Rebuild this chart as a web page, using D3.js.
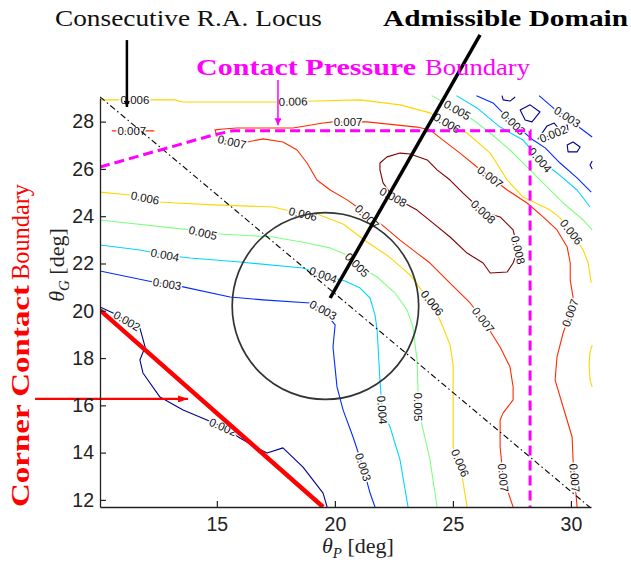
<!DOCTYPE html>
<html>
<head>
<meta charset="utf-8">
<script src="https://cdn.jsdelivr.net/npm/d3@7/dist/d3.min.js"></script>
<style>
  html, body { margin: 0; padding: 0; background: #fff; }
  svg { display: block; }
</style>
</head>
<body>
<svg id="chart" width="631" height="564"></svg>
<script>
// ---------- axes ----------
const xDomain = [10.05, 30.85];
const yDomain = [11.7, 29.0];
const xTicks = [15, 20, 25, 30];
const yTicks = [12, 14, 16, 18, 20, 22, 24, 26, 28];

// ---------- contour levels (jet colour map) ----------
const levels = [0.002, 0.003, 0.004, 0.005, 0.006, 0.007, 0.008];
const levelColors = ["#00008f", "#002bff", "#00d5ff", "#80ff80", "#ffd500", "#ff2b00", "#800000"];

// ---------- iso-lines, points as [thetaP, thetaG] ----------
const c002Main = [[10.05,20.16],[10.60,19.91],[11.19,19.57],[11.74,19.27],[11.96,18.47],[11.74,17.92],[11.87,17.37],[12.59,16.35],[13.57,15.80],[14.58,15.38],[15.26,15.08],[15.98,14.62],[16.70,14.20],[17.13,13.98],[17.80,14.20],[18.65,13.39],[19.50,12.29],[19.67,11.70]];
const c002MainLabels = [[11.19,19.57],[15.26,15.08]];

const c003Main = [[10.05,21.68],[12.30,21.22],[12.89,21.13],[13.57,21.01],[15.56,20.58],[16.96,20.46],[18.95,20.33],[19.50,20.03],[20.01,19.40],[19.92,18.47],[20.09,16.78],[20.35,15.80],[20.77,14.66],[21.19,13.39],[21.49,12.29],[21.70,11.70]];
const c003MainLabels = [[12.89,21.13],[19.50,20.03],[21.19,13.39]];

const c004Main = [[10.05,22.78],[11.74,22.57],[12.80,22.36],[13.86,22.23],[15.98,22.06],[18.65,21.81],[19.50,21.51],[20.43,21.26],[21.07,20.96],[21.49,20.54],[21.70,19.82],[21.79,19.19],[21.91,17.07],[22.00,15.80],[22.34,15.08],[22.76,13.69],[23.10,11.70]];
const c004MainLabels = [[12.80,22.36],[19.50,21.51],[22.00,15.80]];

const c005Main = [[10.05,23.84],[13.86,23.42],[14.41,23.29],[15.13,23.25],[17.38,23.12],[18.82,22.87],[19.80,22.66],[20.52,22.36],[20.94,21.94],[21.79,21.43],[22.55,20.75],[23.06,20.03],[23.31,19.31],[23.48,17.92],[23.52,16.78],[23.52,15.93],[23.69,15.17],[24.03,13.69],[24.33,11.70]];
const c005MainLabels = [[14.41,23.29],[20.94,21.94],[23.52,15.93]];

const c006Mid = [[10.05,25.02],[11.32,24.90],[11.96,24.77],[12.59,24.60],[13.31,24.56],[14.84,24.48],[17.38,24.39],[18.65,24.09],[19.24,24.09],[20.35,23.67],[21.36,22.91],[22.25,22.32],[23.19,21.51],[23.61,20.96],[24.12,20.33],[24.58,19.31],[24.88,18.55],[25.01,17.71],[25.01,14.24],[25.30,13.56],[25.60,11.70]];
const c006MidLabels = [[11.96,24.77],[18.65,24.09],[24.12,20.33],[25.30,13.56]];

const c006Top = [[10.05,28.92],[13.23,28.92],[13.52,28.83],[17.47,28.83],[19.16,28.87],[21.07,28.92],[22.76,28.71],[24.03,28.37],[24.75,27.94],[25.60,27.52],[26.58,26.67],[27.30,25.53],[27.97,24.81],[29.12,24.26],[29.54,23.93],[30.01,23.33],[30.52,22.57],[30.73,22.02],[30.86,21.18]];
const c006TopLabels = [[11.53,28.92],[18.23,28.85],[24.75,27.94],[30.01,23.33]];

const c006Edge = [[30.90,18.55],[30.81,18.26],[30.77,17.71],[30.81,17.07],[30.90,16.78]];

const c007Main = [[30.26,11.70],[30.09,13.69],[30.05,14.66],[29.67,15.93],[29.33,17.07],[29.41,18.05],[29.67,19.06],[29.97,19.91],[30.09,20.58],[29.97,21.30],[29.97,22.02],[29.84,22.70],[29.41,23.42],[28.82,23.97],[28.14,24.56],[27.30,25.11],[26.58,25.66],[26.02,26.08],[25.30,26.67],[24.58,27.22],[24.03,27.65],[23.48,27.77],[21.36,27.99],[19.92,27.99],[19.50,27.94],[18.23,27.73],[15.86,27.73],[15.26,27.69],[14.92,27.65],[15.05,27.27],[15.64,27.14],[16.28,27.14],[16.96,27.27],[17.80,27.14],[18.40,26.80],[18.82,26.25],[19.24,25.53],[19.80,25.11],[20.52,24.69],[20.94,24.39],[21.36,23.97],[21.91,23.71],[22.76,22.99],[23.48,22.44],[24.03,22.02],[24.75,21.30],[25.73,20.33],[26.28,19.61],[27.00,18.47],[27.42,17.62],[27.55,16.78],[27.55,16.23],[27.13,15.68],[27.00,15.38],[27.00,14.24],[27.13,12.93],[27.55,11.70]];
const c007MainLabels = [[30.16,12.93],[29.97,19.91],[26.58,25.66],[20.56,28.0],[15.64,27.14],[21.36,23.97],[26.28,19.61],[27.13,12.93]];

const c007Short = [[10.55,27.61],[12.35,27.61]];
const c007ShortLabels = [[11.4,27.61]];

const c008Loop = [[21.91,26.25],[22.21,26.51],[22.76,26.67],[23.19,26.63],[23.91,26.38],[24.33,25.96],[24.88,25.53],[25.43,24.98],[26.28,24.18],[27.00,23.97],[27.55,23.42],[27.76,22.57],[27.55,22.02],[27.30,21.64],[26.58,21.60],[26.28,22.02],[25.60,22.44],[24.88,23.12],[24.16,23.71],[23.48,24.26],[22.47,24.81],[22.04,25.41],[21.91,25.96]];
const c008LoopLabels = [[26.28,24.18],[27.76,22.57],[22.47,24.81]];

// upper right corner
const c003TopA = [[28.65,29.1],[29.25,28.58],[29.84,28.20],[30.39,27.73],[30.90,27.35]];
const c003TopALabels = [[29.84,28.20]];
const c003TopB = [[26.0,29.1],[26.70,28.79],[27.55,27.94],[28.40,27.22],[28.91,26.89],[29.54,26.25],[30.26,25.62],[30.86,25.02]];
const c003TopBLabels = [[27.55,27.94]];
const c004Top = [[25.15,29.1],[26.02,28.58],[27.00,27.77],[27.97,27.22],[28.69,26.38],[29.41,25.83],[30.26,25.11],[30.81,24.39]];
const c004TopLabels = [[28.69,26.38]];
const c005Top = [[24.1,29.1],[24.58,28.83],[25.18,28.49],[25.86,28.07],[26.58,27.52],[27.42,26.80],[28.27,25.96],[28.82,25.41],[29.67,24.56],[30.52,23.84],[30.90,23.42]];
const c005TopLabels = [[25.18,28.49]];
const c002Hook = [[27.08,29.1],[27.13,28.92],[27.42,28.87],[27.64,29.04]];
const c002Diamond = [[27.85,28.49],[28.27,28.71],[28.69,28.41],[28.35,27.99],[28.06,28.07]];
const c002Bump = [[28.61,27.27],[28.99,27.82],[29.29,27.94],[29.46,27.73],[29.84,27.86],[29.88,27.61]];
const c002BumpLabels = [[29.25,27.48]];
const c002Loop = [[29.84,27.01],[30.09,27.14],[30.39,26.93],[30.26,26.72],[29.88,26.72]];
const c002Edge = [[30.9,26.34],[30.81,26.17],[30.9,26.0]];

const contours = [
  { level: 0.002, pts: c002Main, labels: c002MainLabels },
  { level: 0.003, pts: c003Main, labels: c003MainLabels },
  { level: 0.004, pts: c004Main, labels: c004MainLabels },
  { level: 0.005, pts: c005Main, labels: c005MainLabels },
  { level: 0.006, pts: c006Mid, labels: c006MidLabels },
  { level: 0.006, pts: c006Top, labels: c006TopLabels },
  { level: 0.006, pts: c006Edge, labels: [] },
  { level: 0.007, pts: c007Main, labels: c007MainLabels },
  { level: 0.007, pts: c007Short, labels: c007ShortLabels },
  { level: 0.008, pts: c008Loop, labels: c008LoopLabels, closed: true },
  { level: 0.003, pts: c003TopA, labels: c003TopALabels },
  { level: 0.003, pts: c003TopB, labels: c003TopBLabels },
  { level: 0.004, pts: c004Top, labels: c004TopLabels },
  { level: 0.005, pts: c005Top, labels: c005TopLabels },
  { level: 0.002, pts: c002Hook, labels: [] },
  { level: 0.002, pts: c002Diamond, labels: [], closed: true },
  { level: 0.002, pts: c002Bump, labels: c002BumpLabels, closed: true, labelAngle: -22 },
  { level: 0.002, pts: c002Loop, labels: [], closed: true },
  { level: 0.002, pts: c002Edge, labels: [] }
];

// ---------- annotation geometry, [thetaP, thetaG] ----------
const locusLine = [[10.05,29.05],[30.85,11.65]];
const locusPointer = [[11.19,31.45],[11.19,28.62]];
const admissibleCenter = [19.6, 20.2];
const admissibleRadius = 3.95;
const admissiblePointer = [[26.15,31.67],[19.80,20.54]];
const pressureBoundary = [[10.05,26.08],[14.9,27.45],[15.7,27.62],[28.27,27.62],[28.27,11.7]];
const pressurePointer = [[17.59,29.76],[17.59,27.85]];
const cornerBoundary = [[10.05,20.03],[19.5,11.7]];
const cornerPointer = [[7.30,16.27],[13.78,16.27]];

// ---------- drawing ----------
const svg = d3.select("#chart");
const x = d3.scaleLinear().domain(xDomain).range([100, 591]);
const y = d3.scaleLinear().domain(yDomain).range([507, 98]);
const color = d3.scaleOrdinal().domain(levels).range(levelColors);
const line = d3.line().x(d => x(d[0])).y(d => y(d[1]));
const loop = d3.line().x(d => x(d[0])).y(d => y(d[1])).curve(d3.curveLinearClosed);

const defs = svg.append("defs");
defs.append("clipPath").attr("id", "plotClip")
  .append("rect").attr("x", 100).attr("y", 92).attr("width", 493).attr("height", 415);

function arrowMarker(id, fill, w, h) {
  defs.append("marker").attr("id", id)
    .attr("viewBox", `0 0 ${w} ${h}`).attr("refX", w).attr("refY", h / 2)
    .attr("markerWidth", w).attr("markerHeight", h).attr("markerUnits", "userSpaceOnUse")
    .attr("orient", "auto")
    .append("path").attr("d", `M0,0L${w},${h / 2}L0,${h}Z`).attr("fill", fill);
}
arrowMarker("arrRed", "#ff0000", 10, 7);
arrowMarker("arrMag", "#ff00ff", 7, 7);
arrowMarker("arrBlk", "#000", 6, 6);

const plot = svg.append("g").attr("clip-path", "url(#plotClip)");

// iso-lines
plot.selectAll("path.iso").data(contours).join("path")
  .attr("class", "iso")
  .attr("d", c => (c.closed ? loop : line)(c.pts))
  .attr("fill", "none")
  .attr("stroke", c => color(c.level))
  .attr("stroke-width", 1.1)
  .attr("stroke-linejoin", "round");

// inline level labels, oriented along the iso-line
function labelPlacement(c, lab) {
  const px = c.pts.map(d => [x(d[0]), y(d[1])]);
  if (c.closed) px.push(px[0]);
  const L = [x(lab[0]), y(lab[1])];
  let best = null;
  for (let i = 0; i < px.length - 1; i++) {
    const a = px[i], b = px[i + 1];
    const dx = b[0] - a[0], dy = b[1] - a[1];
    const len2 = dx * dx + dy * dy || 1;
    let t = ((L[0] - a[0]) * dx + (L[1] - a[1]) * dy) / len2;
    t = Math.max(0, Math.min(1, t));
    const p = [a[0] + t * dx, a[1] + t * dy];
    const dist = Math.hypot(p[0] - L[0], p[1] - L[1]);
    if (!best || dist < best.dist) best = { dist, p, ang: Math.atan2(dy, dx) * 180 / Math.PI };
  }
  let ang = c.labelAngle !== undefined ? c.labelAngle : best.ang;
  if (ang > 90) ang -= 180;
  if (ang < -90) ang += 180;
  return { pos: c.labelAngle !== undefined ? L : best.p, ang };
}
const labelData = [];
contours.forEach(c => c.labels.forEach(l => {
  const pl = labelPlacement(c, l);
  labelData.push({ level: c.level, pos: pl.pos, ang: pl.ang });
}));
plot.selectAll("text.lvl").data(labelData).join("text")
  .attr("class", "lvl")
  .attr("transform", d => `translate(${d.pos[0]},${d.pos[1]}) rotate(${d.ang})`)
  .attr("text-anchor", "middle")
  .attr("dy", "0.35em")
  .attr("font-family", "Liberation Sans, Arial, sans-serif")
  .attr("font-size", 11.5)
  .attr("fill", "#111")
  .attr("stroke", "#fff").attr("stroke-width", 3).attr("paint-order", "stroke")
  .text(d => d3.format(".3f")(d.level));

// consecutive R.A. locus (dash-dot)
plot.append("path").attr("d", line(locusLine))
  .attr("fill", "none").attr("stroke", "#000").attr("stroke-width", 1.1)
  .attr("stroke-dasharray", "6,3,1.5,3");

// admissible domain
plot.append("ellipse")
  .attr("cx", x(admissibleCenter[0])).attr("cy", y(admissibleCenter[1]))
  .attr("rx", x(admissibleCenter[0] + admissibleRadius) - x(admissibleCenter[0]))
  .attr("ry", y(admissibleCenter[1]) - y(admissibleCenter[1] + admissibleRadius))
  .attr("fill", "none").attr("stroke", "#333").attr("stroke-width", 1.7);

// contact pressure boundary (dashed)
plot.append("path").attr("d", line(pressureBoundary))
  .attr("fill", "none").attr("stroke", "#ff00ff").attr("stroke-width", 3)
  .attr("stroke-dasharray", "10,5");

// corner contact boundary
plot.append("path").attr("d", line(cornerBoundary))
  .attr("fill", "none").attr("stroke", "#ff0000").attr("stroke-width", 4.5);

// pointers
svg.append("path").attr("d", line(admissiblePointer))
  .attr("stroke", "#000").attr("stroke-width", 3.5).attr("fill", "none");
svg.append("path").attr("d", line(locusPointer))
  .attr("stroke", "#000").attr("stroke-width", 2.5).attr("fill", "none")
  .attr("marker-end", "url(#arrBlk)");
svg.append("path").attr("d", line(pressurePointer))
  .attr("stroke", "#ff00ff").attr("stroke-width", 1.5).attr("fill", "none")
  .attr("marker-end", "url(#arrMag)");
svg.append("path").attr("d", line(cornerPointer))
  .attr("stroke", "#ff0000").attr("stroke-width", 2.2).attr("fill", "none")
  .attr("marker-end", "url(#arrRed)");

// axes with inward ticks
const tickFont = "Liberation Sans, Arial, sans-serif";
const xAxis = svg.append("g").attr("transform", "translate(0,507)")
  .call(d3.axisBottom(x).tickValues(xTicks).tickFormat(d3.format("d"))
    .tickSizeInner(-6).tickSizeOuter(0).tickPadding(10));
const yAxis = svg.append("g").attr("transform", "translate(100,0)")
  .call(d3.axisLeft(y).tickValues(yTicks).tickFormat(d3.format("d"))
    .tickSizeInner(-6).tickSizeOuter(0).tickPadding(6));
[xAxis, yAxis].forEach(g => {
  g.select(".domain").attr("stroke", "#222").attr("stroke-width", 1.3);
  g.selectAll(".tick line").attr("stroke", "#222").attr("stroke-width", 1.2);
  g.selectAll(".tick text").attr("font-family", tickFont).attr("font-size", 19.5).attr("fill", "#222");
});

// axis titles
const serif = "Liberation Serif, Times New Roman, serif";
const xt = svg.append("text").attr("x", 358).attr("y", 553)
  .attr("text-anchor", "middle").attr("font-family", serif).attr("font-size", 22).attr("fill", "#222");
xt.append("tspan").attr("font-style", "italic").text("θ");
xt.append("tspan").attr("font-style", "italic").attr("font-size", 15).attr("dy", 5).text("P");
xt.append("tspan").attr("dy", -5).text(" [deg]");

const yt = svg.append("text").attr("transform", "translate(64,265) rotate(-90)")
  .attr("text-anchor", "middle").attr("font-family", serif).attr("font-size", 22).attr("fill", "#222");
yt.append("tspan").attr("font-style", "italic").text("θ");
yt.append("tspan").attr("font-style", "italic").attr("font-size", 15).attr("dy", 5).text("G");
yt.append("tspan").attr("dy", -5).text(" [deg]");

// annotation titles
function note(g, txt, x0, len, opts) {
  return g.append("text").attr("x", x0).attr("y", 0)
    .attr("font-family", serif).attr("font-size", opts.size)
    .attr("font-weight", opts.bold ? "bold" : "normal")
    .attr("fill", opts.fill)
    .attr("textLength", len).attr("lengthAdjust", "spacingAndGlyphs")
    .text(txt);
}
const gLocus = svg.append("g").attr("transform", "translate(55,26)");
note(gLocus, "Consecutive R.A. Locus", 0, 267, { size: 24, fill: "#111" });

const gAdm = svg.append("g").attr("transform", "translate(383,26)");
note(gAdm, "Admissible Domain", 0, 245, { size: 24, bold: true, fill: "#000" });

const gPress = svg.append("g").attr("transform", "translate(196,75)");
note(gPress, "Contact Pressure", 0, 220, { size: 24, bold: true, fill: "#ff00ff" });
note(gPress, "Boundary", 229, 105, { size: 24, fill: "#ff00ff" });

const gCorner = svg.append("g").attr("transform", "translate(29,507) rotate(-90)");
note(gCorner, "Corner Contact", 0, 222, { size: 25, bold: true, fill: "#ff0000" });
note(gCorner, "Boundary", 227, 96, { size: 25, fill: "#ff0000" });
</script>
</body>
</html>
